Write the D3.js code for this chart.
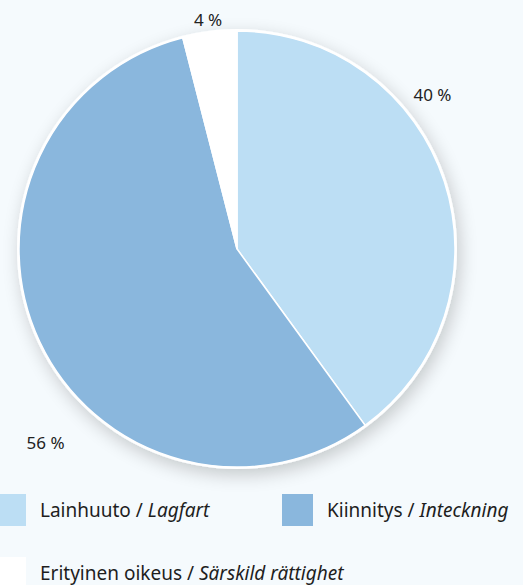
<!DOCTYPE html>
<html>
<head>
<meta charset="utf-8">
<script src="https://cdn.jsdelivr.net/npm/d3@7"></script>
<style>
  body { margin: 0; background: #f5fafd; }
  svg { display: block; font-family: "Noto Sans", sans-serif; }
</style>
</head>
<body>
<svg id="chart"></svg>
<script>
// data
let categories = ["Lainhuuto", "Kiinnitys", "Erityinen oikeus"];
let categoriesSv = ["Lagfart", "Inteckning", "Särskild rättighet"];
let shares = [40, 56, 4];
let colors = ["#bcdef4", "#8ab7dd", "#ffffff"];

let width = 523, height = 585;
let cx = 237, cy = 249, radius = 218;

let svg = d3.select("#chart")
    .attr("width", width)
    .attr("height", height);

svg.append("rect")
    .attr("width", width)
    .attr("height", height)
    .attr("fill", "#f5fafd");

let defs = svg.append("defs");
let shadow = defs.append("filter")
    .attr("id", "shadow")
    .attr("x", "-20%").attr("y", "-20%")
    .attr("width", "140%").attr("height", "140%");
shadow.append("feGaussianBlur")
    .attr("in", "SourceAlpha")
    .attr("stdDeviation", 9);
shadow.append("feOffset")
    .attr("dx", 3).attr("dy", 6)
    .attr("result", "blur");
shadow.append("feComponentTransfer")
    .append("feFuncA").attr("type", "linear").attr("slope", 0.2);
let merge = shadow.append("feMerge");
merge.append("feMergeNode");
merge.append("feMergeNode").attr("in", "SourceGraphic");

let data = categories.map((c, i) => ({ name: c, sv: categoriesSv[i], value: shares[i], color: colors[i] }));

let pie = d3.pie()
    .value(d => d.value)
    .sort(null);

let arc = d3.arc()
    .innerRadius(0)
    .outerRadius(radius);

let g = svg.append("g")
    .attr("transform", `translate(${cx}, ${cy})`);

// white disc with shadow behind the slices
g.append("circle")
    .attr("r", radius + 2)
    .attr("fill", "#ffffff")
    .attr("filter", "url(#shadow)");

g.selectAll("path.slice")
    .data(pie(data))
    .enter()
    .append("path")
    .classed("slice", true)
    .attr("d", arc)
    .attr("fill", d => d.data.color)
    .attr("stroke", "#ffffff")
    .attr("stroke-width", 1.5);

// percentage labels outside the pie: where along each slice, and how far out
let labelFrac = [0.36, 0.40, 0.5];
let labelRadius = [1.14, 1.25, 1.06];
let labelAngle = d => d.startAngle + (d.endAngle - d.startAngle) * labelFrac[d.index];
g.selectAll("text.pct")
    .data(pie(data))
    .enter()
    .append("text")
    .classed("pct", true)
    .attr("x", d => Math.sin(labelAngle(d)) * radius * labelRadius[d.index])
    .attr("y", d => -Math.cos(labelAngle(d)) * radius * labelRadius[d.index])
    .attr("dy", "0.35em")
    .attr("text-anchor", "middle")
    .attr("font-size", "17px")
    .attr("fill", "#222")
    .text(d => `${d.data.value} %`);

// legend
let legendPos = [[-5, 494], [282, 494], [-5, 557]];
let legend = svg.selectAll("g.legend")
    .data(data)
    .enter()
    .append("g")
    .classed("legend", true)
    .attr("transform", (d, i) => `translate(${legendPos[i][0]}, ${legendPos[i][1]})`);

legend.append("rect")
    .attr("width", 31)
    .attr("height", 32)
    .attr("fill", d => d.color);

let lt = legend.append("text")
    .attr("x", 45)
    .attr("y", 23)
    .attr("font-size", "19px")
    .attr("fill", "#1e1e1e");
lt.append("tspan").text(d => `${d.name} / `);
lt.append("tspan").attr("font-style", "italic").text(d => d.sv);
</script>
</body>
</html>
